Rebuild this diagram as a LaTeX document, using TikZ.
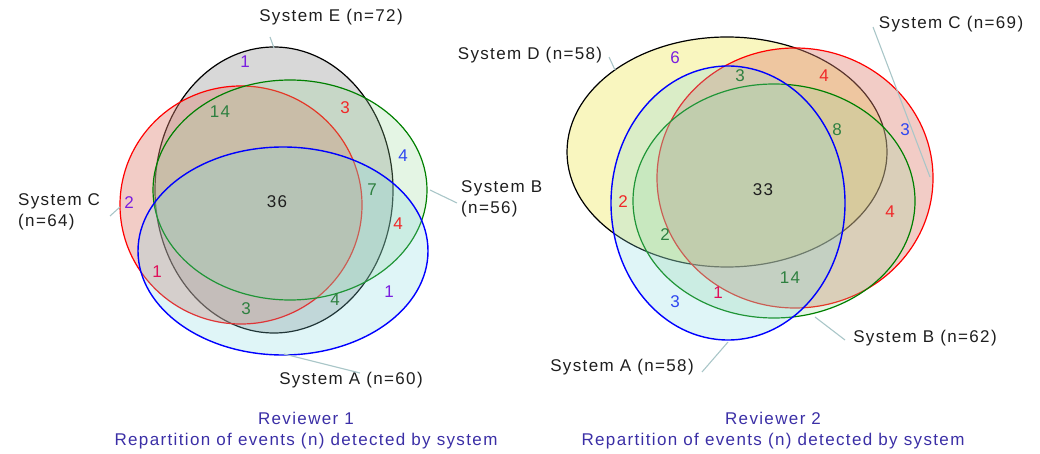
\documentclass[tikz,border=0pt]{standalone}
\usepackage{fontspec}
\setmainfont{Liberation Sans}
\newfontfamily\vennfont[LetterSpace=8]{Liberation Sans}
\usetikzlibrary{positioning}
\definecolor{ink}{HTML}{1E1E1E}
\definecolor{leadgray}{HTML}{A9C6C8}
\definecolor{capblue}{HTML}{3B2FA6}
\definecolor{grayfill}{HTML}{A8A8A8}
\definecolor{redfill}{HTML}{DE8070}
\definecolor{grnfill}{HTML}{98D898}
\definecolor{cyanfill}{HTML}{80D6DE}
\definecolor{yelfill}{HTML}{F0E860}
\definecolor{nred}{HTML}{F02828}
\definecolor{ngreen}{HTML}{2E8040}
\definecolor{nblue}{HTML}{2E46F0}
\definecolor{npurple}{HTML}{7A1EE0}
\definecolor{ncrimson}{HTML}{E0105A}
\tikzset{
  setgray/.style={draw=black,fill=grayfill,fill opacity=0.45,line width=1.2pt},
  setyel/.style={draw=black,fill=yelfill,fill opacity=0.4,line width=1.2pt},
  setred/.style={draw=red,fill=redfill,fill opacity=0.4,line width=1.2pt},
  setgrn/.style={draw=green!50!black,fill=grnfill,fill opacity=0.26,line width=1.2pt},
  setblue/.style={draw=blue,fill=cyanfill,fill opacity=0.25,line width=1.4pt},
  setlabel/.style={font=\vennfont\fontsize{17}{21}\selectfont,text=ink,inner sep=1pt,align=left},
  regnum/.style={font=\vennfont\fontsize{17}{19}\selectfont,inner sep=0pt},
  leader/.style={draw=leadgray,line width=1.1pt},
  caption/.style={font=\vennfont\fontsize{17}{21}\selectfont,text=capblue,align=center,inner sep=0pt}
}
\begin{document}
\begin{tikzpicture}[x=1pt,y=-1pt]
  \useasboundingbox (0,0) rectangle (1040,454);

  % Reviewer 1
  \draw[setgray] (274,190) ellipse [x radius=119,y radius=143];
  \draw[setred]  (241,205) ellipse [x radius=121,y radius=119];
  \draw[setgrn]  (290,190) ellipse [x radius=137,y radius=110];
  \draw[setblue] (283,251) ellipse [x radius=145,y radius=104];

  \node[setlabel] (labE1) at (331,17) {System E (n=72)};
  \node[setlabel,anchor=west] (labC1) at (17,212) {System C\\(n=64)};
  \node[setlabel,anchor=west] (labB1) at (460,199) {System B\\(n=56)};
  \node[setlabel] (labA1) at (351,380) {System A (n=60)};
  \coordinate (e1a) at (270,37);  \coordinate (e1b) at (274,48);
  \coordinate (c1a) at (110,216); \coordinate (c1b) at (120,207);
  \coordinate (b1a) at (430,190); \coordinate (b1b) at (457,203);
  \coordinate (a1a) at (284,354); \coordinate (a1b) at (360,373);
  \draw[leader] (e1a) -- (e1b);
  \draw[leader] (c1a) -- (c1b);
  \draw[leader] (b1a) -- (b1b);
  \draw[leader] (a1a) -- (a1b);

  \node[regnum,text=npurple]  (r1n1)  at (245,62)  {1};
  \node[regnum,text=ngreen]   (r1n2)  at (220,112) {14};
  \node[regnum,text=nred]     (r1n3)  at (345,108) {3};
  \node[regnum,text=nblue]    (r1n4)  at (403,156) {4};
  \node[regnum,text=ngreen]   (r1n5)  at (372,190) {7};
  \node[regnum,text=ink]      (r1n6)  at (277,202) {36};
  \node[regnum,text=npurple]  (r1n7)  at (129,203) {2};
  \node[regnum,text=nred]     (r1n8)  at (398,224) {4};
  \node[regnum,text=ncrimson] (r1n9)  at (157,272) {1};
  \node[regnum,text=ngreen]   (r1n10) at (246,309) {3};
  \node[regnum,text=ngreen]   (r1n11) at (335,300) {4};
  \node[regnum,text=npurple]  (r1n12) at (389,292) {1};

  \node[caption] (cap1) at (306,431) {Reviewer 1\\Repartition of events (n) detected by system};

  % Reviewer 2
  \draw[setyel]  (727,152) ellipse [x radius=160,y radius=115];
  \draw[setred]  (795,178) ellipse [x radius=138,y radius=130];
  \draw[setgrn]  (774,201) ellipse [x radius=141,y radius=117];
  \draw[setblue] (728,203) ellipse [x radius=117,y radius=137];

  \node[setlabel] (labD2) at (530,55)  {System D (n=58)};
  \node[setlabel] (labC2) at (951,24)  {System C (n=69)};
  \node[setlabel] (labB2) at (925,338) {System B (n=62)};
  \node[setlabel] (labA2) at (622,367) {System A (n=58)};
  \coordinate (d2a) at (609,57);  \coordinate (d2b) at (615,70);
  \coordinate (c2a) at (873,27);  \coordinate (c2b) at (930,177);
  \coordinate (b2a) at (815,317); \coordinate (b2b) at (845,340);
  \coordinate (a2a) at (728,342); \coordinate (a2b) at (702,372);
  \draw[leader] (d2a) -- (d2b);
  \draw[leader] (c2a) -- (c2b);
  \draw[leader] (b2a) -- (b2b);
  \draw[leader] (a2a) -- (a2b);

  \node[regnum,text=npurple]  (r2n1)  at (675,58)  {6};
  \node[regnum,text=ngreen]   (r2n2)  at (740,76)  {3};
  \node[regnum,text=nred]     (r2n3)  at (824,76)  {4};
  \node[regnum,text=ngreen]   (r2n4)  at (837,130) {8};
  \node[regnum,text=nblue]    (r2n5)  at (905,130) {3};
  \node[regnum,text=ink]      (r2n6)  at (763,190) {33};
  \node[regnum,text=nred]     (r2n7)  at (623,202) {2};
  \node[regnum,text=nred]     (r2n8)  at (890,212) {4};
  \node[regnum,text=ngreen]   (r2n9)  at (665,235) {2};
  \node[regnum,text=ngreen]   (r2n10) at (790,278) {14};
  \node[regnum,text=ncrimson] (r2n11) at (718,293) {1};
  \node[regnum,text=nblue]    (r2n12) at (675,302) {3};

  \node[caption] (cap2) at (773,431) {Reviewer 2\\Repartition of events (n) detected by system};
\end{tikzpicture}
\end{document}
